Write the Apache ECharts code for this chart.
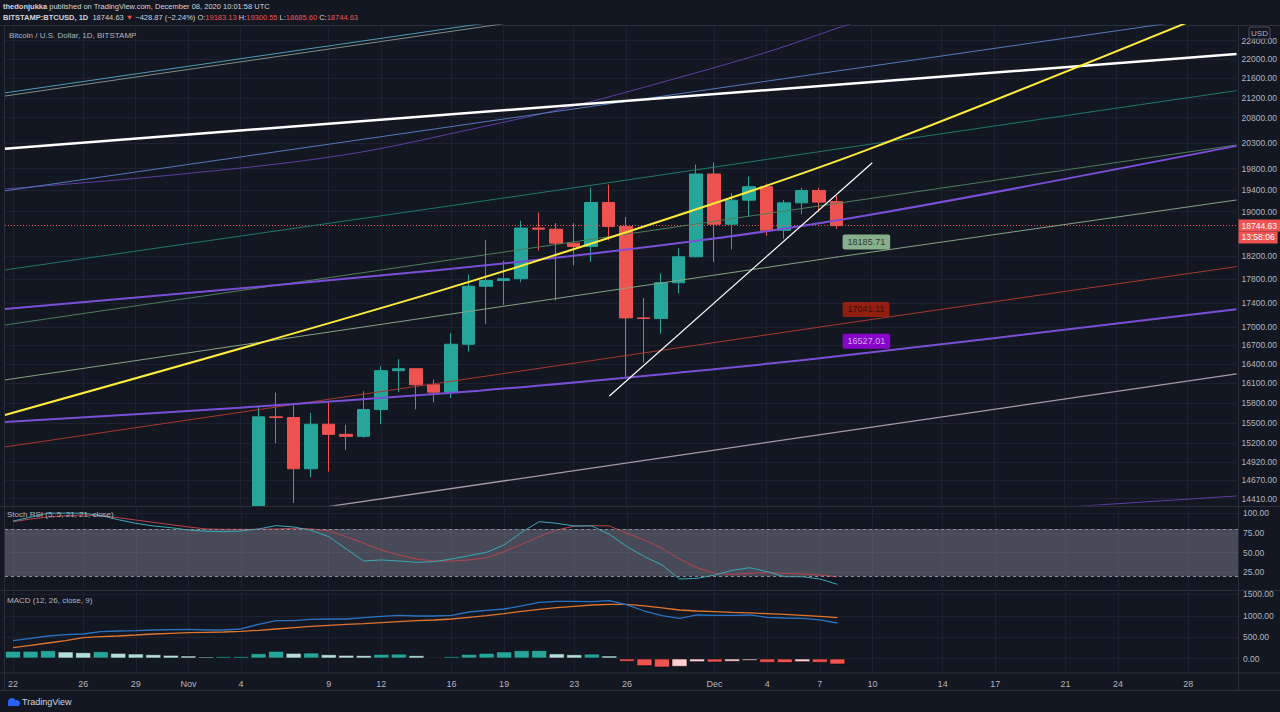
<!DOCTYPE html>
<html><head><meta charset="utf-8">
<script src="https://cdn.jsdelivr.net/npm/echarts@6/dist/echarts.min.js"></script>
<style>
html,body{margin:0;padding:0;background:#131722;overflow:hidden;}
#main{position:absolute;left:0;top:0;width:1280px;height:506px;overflow:hidden;}
#ind{position:absolute;left:0;top:506px;width:1280px;height:206px;overflow:hidden;}
</style>
</head><body><div id="main"></div><div id="ind"></div>
<script>
// ---------- DATA ----------
const dates = ['2020-10-22','2020-10-23','2020-10-24','2020-10-25','2020-10-26','2020-10-27','2020-10-28','2020-10-29','2020-10-30','2020-10-31',
 '2020-11-01','2020-11-02','2020-11-03','2020-11-04','2020-11-05','2020-11-06','2020-11-07','2020-11-08','2020-11-09','2020-11-10',
 '2020-11-11','2020-11-12','2020-11-13','2020-11-14','2020-11-15','2020-11-16','2020-11-17','2020-11-18','2020-11-19','2020-11-20',
 '2020-11-21','2020-11-22','2020-11-23','2020-11-24','2020-11-25','2020-11-26','2020-11-27','2020-11-28','2020-11-29','2020-11-30',
 '2020-12-01','2020-12-02','2020-12-03','2020-12-04','2020-12-05','2020-12-06','2020-12-07','2020-12-08'];
const candleStart = 14; // index of 2020-11-05 in dates
const candleOpen  = [14150,15590,15580,14830,15480,15330,15300,15700,16300,16330,16080,15965,16720,17680,17780,17810,18700,18680,18430,18370,19165,18730,17150,17140,17740,18190,19700,18770,19210,19460,18660,19160,19390,19183.13];
const candleHigh  = [15750,15960,15770,15650,15830,15470,15980,16370,16480,16340,16160,16900,17880,18490,18120,18830,18980,18790,18790,19440,19500,18900,17480,17900,18340,19880,19920,19340,19650,19520,19210,19440,19440,19300.55];
const candleLow   = [14100,15200,14350,14710,14790,15100,15280,15480,15965,15705,15810,15875,16600,17050,17365,17750,18300,17440,18040,18100,18480,16200,16430,16890,17560,18180,18100,18320,18910,18560,18510,18950,18990,18685.60];
const candleClose = [15590,15580,14830,15480,15330,15300,15700,16300,16330,16080,15965,16720,17680,17780,17810,18700,18680,18430,18370,19165,18730,17150,17140,17740,18190,19700,18770,19210,19460,18660,19160,19390,19173.50,18744.63];
const lastPrice = 18744.63;

const stochK = [90,95,100,100,100,97,91.7,87.1,83.8,81.6,78.7,77,76.6,77.4,80,84.2,82.5,78.2,70.2,54.6,39.4,40.7,39.4,37.7,38.5,41.9,46.2,50.4,59.7,75.8,89.2,87.1,83.8,83.8,73.2,57.6,44.9,34.3,16.6,17.4,21.6,27.5,30.9,25.9,19.5,19.5,16.6,9.8];
const stochD = [89.2,92.6,95.1,96.8,97.7,96.8,94.3,91.3,88.4,85.4,82.5,80,79.5,79.5,79.5,80,80.8,80,77.8,70.2,61.8,53.3,47,41.9,39.4,39.4,40.7,43.6,51.2,60.5,70.2,78.7,83.4,84.2,83.8,74.5,66.1,55.4,41.9,30.9,23.8,22.5,23.8,24.7,23.8,22.9,21.6,19.5];

const macdLine   = [418,472,527,558,574,628,644,652,667,675,683,667,667,691,800,886,886,917,925,925,956,988,1011,995,995,1011,1089,1128,1159,1230,1315,1339,1339,1331,1354,1253,1112,1003,941,1019,1011,1011,1019,964,948,941,902,831];
const signalLine = [254,308,363,418,488,511,527,550,574,589,605,613,621,636,660,691,722,753,777,800,816,839,863,886,902,925,964,1003,1050,1105,1152,1190,1222,1253,1269,1269,1230,1183,1136,1112,1097,1081,1066,1050,1034,1011,988,956];
const macdHist   = [180,182,195,164,148,172,133,117,101,86,70,47,55,58,125,180,133,140,101,86,80,109,115,78,31,55,109,133,165,195,198,120,100,115,70,-78,-180,-211,-195,-86,-94,-78,-55,-101,-105,-86,-101,-141];

// drawn lines: [dayIndex (0 = 2020-10-22), price]
const lineYellow      = [[-0.456,15619],[24.34,17602],[38.71,19011],[48.75,20162],[67.1,22807]];
const lineWhite       = [[-0.456,20187],[69.84,22115]];
const lineBlue        = [[-0.456,19383],[69.84,22994]];
const curvePurpleTop  = [[-0.456,19418],[9.07,19681],[18.87,20064],[26.74,20612],[31.98,21033],[38.54,21672],[43.44,22201],[47.6,22741],[50.57,23072]];
const lineTopA        = [[-0.456,21302],[33.47,23146]];
const lineTopB        = [[-0.456,21237],[33.47,23075]];
const lineTeal        = [[-0.456,17961],[28.05,19251],[48.63,20259],[69.84,21348]];
const lineGreen       = [[-0.456,17033],[69.84,20259]];
const curvePurpleMid  = [[-0.456,17297],[24.34,17961],[38.71,18458],[49.43,18969],[69.84,20241]];
const lineSage        = [[-0.456,16155],[47.04,18185.71],[69.84,19213]];
const lineRed         = [[-0.456,15145],[47.04,17041.11],[69.84,18019]];
const curvePurpleLow  = [[-0.456,15515],[12.94,15729],[26.62,15989],[38.03,16270],[47.04,16527.01],[69.84,17293]];
const lineMauve       = [[16.36,14242],[69.84,16249]];
const curvePurpleBot  = [[56.27,14233],[69.84,14446]];
const lineWhiteThin   = [[34.04,15907],[49.05,19916]];
const levelLabels     = [[47.04,18185.71],[47.04,17041.11],[47.04,16527.01]];

const priceTicks = [22400,22000,21600,21200,20800,20300,19800,19400,19000,18200,17800,17400,17000,16700,16400,16100,15800,15500,15200,14920,14670,14410];
const stochTicks = [100,75,50,25];
const macdTicks  = [1500,1000,500,0];
const xTickDays   = [0,4,7,10,13,18,21,25,28,32,35,40,43,46,49,53,56,60,63,67];
const xTickLabels = ['22','26','29','Nov','4','9','12','16','19','23','26','Dec','4','7','10','14','17','21','24','28'];

// ---------- CHART ----------
const FONT = 'Liberation Sans';
const TXT = '#b2b5be';
const GRIDC = '#1e2230';
const SEP = '#2a2e39';
const UP = '#26a69a', DOWN = '#ef5350';
const XMIN = -0.456, XMAX = 69.84;

const candles = candleOpen.map((o, i) => [candleStart + i, o, candleClose[i], candleLow[i], candleHigh[i]]);
const idx = a => a.map((v, i) => [i, v]);
const histData = macdHist.map((v, i) => {
  const prev = i > 0 ? macdHist[i - 1] : v;
  let c;
  if (v >= 0) c = v >= prev ? '#26a69a' : '#b2dfdb';
  else c = v < prev ? '#ef5350' : '#ffcdd2';
  return { value: [i, v], itemStyle: { color: c } };
});

function xAx(gi, showLabel) {
  return {
    type: 'value', gridIndex: gi, min: XMIN, max: XMAX,
    axisLine: { show: false },
    axisTick: { show: false, customValues: xTickDays },
    splitLine: { show: true, lineStyle: { color: GRIDC, width: 1 } },
    axisLabel: {
      show: showLabel, customValues: xTickDays, color: TXT, fontSize: 9, fontFamily: FONT, margin: 7,
      formatter: v => xTickLabels[xTickDays.indexOf(v)]
    }
  };
}
function yAx(gi, type, min, max, ticks) {
  return {
    type: type, gridIndex: gi, min: min, max: max, position: 'right', scale: true,
    axisLine: { show: false },
    axisTick: { show: false, customValues: ticks },
    splitLine: { show: true, lineStyle: { color: GRIDC, width: 1 } },
    axisLabel: { customValues: ticks, color: TXT, fontSize: 8.5, fontFamily: FONT, margin: 5, formatter: v => Number(v).toFixed(2) }
  };
}
function drawn(data, color, width, smooth) {
  return { type: 'line', data: data, showSymbol: false, symbol: 'none',
    smooth: smooth ? 0.35 : false, lineStyle: { color: color, width: width }, z: 5, silent: true, clip: true };
}
function ttl(left, top, text, size, color, rich) {
  return { left: left, top: top, padding: 0, text: text,
    textStyle: { fontSize: size, color: color, fontWeight: 'normal', fontFamily: FONT, rich: rich || {} } };
}
function hline(y, x1, x2) { return { type: 'line', shape: { x1: x1, y1: y, x2: x2, y2: y }, style: { stroke: SEP, lineWidth: 1 }, silent: true }; }
function vline(x, y1, y2) { return { type: 'line', shape: { x1: x, y1: y1, x2: x, y2: y2 }, style: { stroke: SEP, lineWidth: 1 }, silent: true }; }

// ---- main price panel ----
const mainChart = echarts.init(document.getElementById('main'), null, { renderer: 'svg', width: 1280, height: 506 });
const HF = 7.5;
mainChart.setOption({
  animation: false,
  backgroundColor: '#131722',
  textStyle: { fontFamily: FONT },
  title: [
    ttl(3, 2, '{b|thedonjukka} published on TradingView.com, December 08, 2020 10:01:58 UTC', HF, '#d1d4dc',
      { b: { fontSize: HF, fontWeight: 'bold', color: '#d1d4dc', fontFamily: FONT } }),
    ttl(3, 13, '{b|BITSTAMP:BTCUSD, 1D}  {w|18744.63} {r|▼} {w|−428.87 (−2.24%)} {w|O:}{r|19183.13} {w|H:}{r|19300.55} {w|L:}{r|18685.60} {w|C:}{r|18744.63}', HF, '#d1d4dc',
      { b: { fontSize: HF, fontWeight: 'bold', color: '#d1d4dc', fontFamily: FONT },
        w: { fontSize: HF, color: '#d1d4dc', fontFamily: FONT },
        r: { fontSize: HF, color: '#ef5350', fontFamily: FONT } }),
    ttl(9, 31, 'Bitcoin / U.S. Dollar, 1D, BITSTAMP', 8, TXT)
  ],
  graphic: [
    hline(25.5, 0, 1280),
    vline(1238.5, 25, 506),
    vline(4.5, 25, 506),
    { type: 'rect', shape: { x: 1249, y: 27, width: 21, height: 12, r: 2 }, style: { fill: '#131722', stroke: '#50535e', lineWidth: 1 }, z: 20 },
    { type: 'text', x: 1259.5, y: 33, style: { text: 'USD', fill: TXT, fontSize: 8, fontFamily: FONT, align: 'center', verticalAlign: 'middle' }, z: 21 }
  ],
  grid: [{ left: 5, top: 25, width: 1233, height: 480 }],
  xAxis: [xAx(0, false)],
  yAxis: [yAx(0, 'log', 14321, 22741, priceTicks)],
  series: [
    {
      type: 'candlestick', data: candles, encode: { x: 0, y: [1, 2, 3, 4] },
      barWidth: 13, clip: true, z: 3,
      itemStyle: { color: UP, color0: DOWN, borderColor: UP, borderColor0: DOWN, borderWidth: 1 },
      markLine: {
        silent: true, symbol: 'none', animation: false,
        lineStyle: { color: DOWN, type: [1, 2], width: 1 },
        label: {
          show: true, position: 'end', distance: 2, offset: [0, 6],
          formatter: '{a|' + lastPrice.toFixed(2) + '}\n{b|13:58:06}',
          rich: {
            a: { backgroundColor: DOWN, color: '#ffffff', fontSize: 8.5, fontFamily: FONT, padding: [2, 3, 1, 3], lineHeight: 12 },
            b: { backgroundColor: DOWN, color: '#ffffff', fontSize: 8.5, fontFamily: FONT, padding: [1, 3, 2, 3], lineHeight: 12 }
          }
        },
        data: [{ yAxis: lastPrice }]
      }
    },
    drawn(lineTopA, '#4f9bb3', 1, false),
    drawn(lineTopB, '#7f8d86', 1, false),
    drawn(curvePurpleTop, '#5c3fa6', 1, true),
    drawn(lineBlue, '#5578bd', 1, false),
    drawn(lineWhite, '#ffffff', 2.5, false),
    drawn(lineTeal, '#1f7a68', 1, true),
    drawn(lineGreen, '#4d7d5a', 1, false),
    drawn(curvePurpleMid, '#7a4fd6', 2, true),
    drawn(lineSage, '#83a383', 1, false),
    drawn(lineRed, '#a8392f', 1, false),
    drawn(curvePurpleLow, '#7a4fd6', 2, true),
    drawn(lineMauve, '#a898a8', 1.3, false),
    drawn(curvePurpleBot, '#5c3fa6', 1, false),
    drawn(lineYellow, '#ffeb3b', 2, true),
    drawn(lineWhiteThin, '#ffffff', 1.2, false),
    {
      type: 'scatter', symbolSize: 1, z: 10, silent: true,
      data: [
        { value: levelLabels[0], itemStyle: { color: '#a5d6a7' }, label: { show: true, position: [6, -22], formatter: p => p.value[1].toFixed(2), backgroundColor: '#a5d6a7', color: '#131722', fontSize: 9, fontFamily: FONT, padding: [3, 5], borderRadius: 2 } },
        { value: levelLabels[1], itemStyle: { color: '#b71c1c' }, label: { show: true, position: [6, -22], formatter: p => p.value[1].toFixed(2), backgroundColor: '#b2200e', color: '#2a0a06', fontSize: 9, fontFamily: FONT, padding: [3, 5], borderRadius: 2 } },
        { value: levelLabels[2], itemStyle: { color: '#aa00ff' }, label: { show: true, position: [6, -22], formatter: p => p.value[1].toFixed(2), backgroundColor: '#a600f5', color: '#e8d8ff', fontSize: 9, fontFamily: FONT, padding: [3, 5], borderRadius: 2 } }
      ]
    }
  ]
});

// ---- indicator panels (Stoch RSI, MACD) + time axis ----
const indChart = echarts.init(document.getElementById('ind'), null, { renderer: 'svg', width: 1280, height: 206 });
indChart.setOption({
  animation: false,
  backgroundColor: '#131722',
  textStyle: { fontFamily: FONT },
  title: [
    ttl(7, 4, 'Stoch RSI (5, 5, 21, 21, close)', 8, TXT),
    ttl(7, 90, 'MACD (12, 26, close, 9)', 8, TXT),
    ttl(22, 191, 'TradingView', 9, '#d1d4dc')
  ],
  graphic: [
    hline(0.5, 0, 1280),
    hline(84.5, 0, 1280),
    hline(167, 0, 1280),
    hline(184.5, 0, 1280),
    vline(1238.5, 0, 184),
    vline(4.5, 0, 184),
    { type: 'circle', shape: { cx: 12, cy: 196, r: 4 }, style: { fill: '#2962ff' } },
    { type: 'circle', shape: { cx: 17, cy: 197, r: 3 }, style: { fill: '#2962ff' } },
    { type: 'rect', shape: { x: 8, y: 197, width: 11, height: 3 }, style: { fill: '#2962ff' } }
  ],
  grid: [
    { left: 5, top: 1, width: 1233, height: 82 },
    { left: 5, top: 86, width: 1233, height: 80 }
  ],
  xAxis: [xAx(0, false), xAx(1, true)],
  yAxis: [
    yAx(0, 'value', 3.9, 107.8, stochTicks),
    yAx(1, 'value', -316, 1557, macdTicks)
  ],
  series: [
    {
      type: 'line', xAxisIndex: 0, yAxisIndex: 0, data: idx(stochK), showSymbol: false, symbol: 'none',
      lineStyle: { color: '#3aa8b5', width: 1 }, z: 4,
      markArea: { silent: true, itemStyle: { color: 'rgba(125,128,139,0.5)' }, data: [[{ yAxis: 20 }, { yAxis: 80 }]] },
      markLine: { silent: true, symbol: 'none', label: { show: false }, lineStyle: { color: '#8a8d96', type: [3, 3], width: 1 }, data: [{ yAxis: 80 }, { yAxis: 20 }] }
    },
    { type: 'line', xAxisIndex: 0, yAxisIndex: 0, data: idx(stochD), showSymbol: false, symbol: 'none', lineStyle: { color: '#b9434f', width: 1 }, z: 3 },
    { type: 'bar', xAxisIndex: 1, yAxisIndex: 1, data: histData, barWidth: 16, itemStyle: { borderColor: 'rgba(0,0,0,0.55)', borderWidth: 1 }, z: 2 },
    { type: 'line', xAxisIndex: 1, yAxisIndex: 1, data: idx(macdLine), showSymbol: false, symbol: 'none', lineStyle: { color: '#2a73c4', width: 1.3 }, z: 4 },
    { type: 'line', xAxisIndex: 1, yAxisIndex: 1, data: idx(signalLine), showSymbol: false, symbol: 'none', lineStyle: { color: '#e0762e', width: 1.3 }, z: 3 }
  ]
});
</script>
</body></html>
